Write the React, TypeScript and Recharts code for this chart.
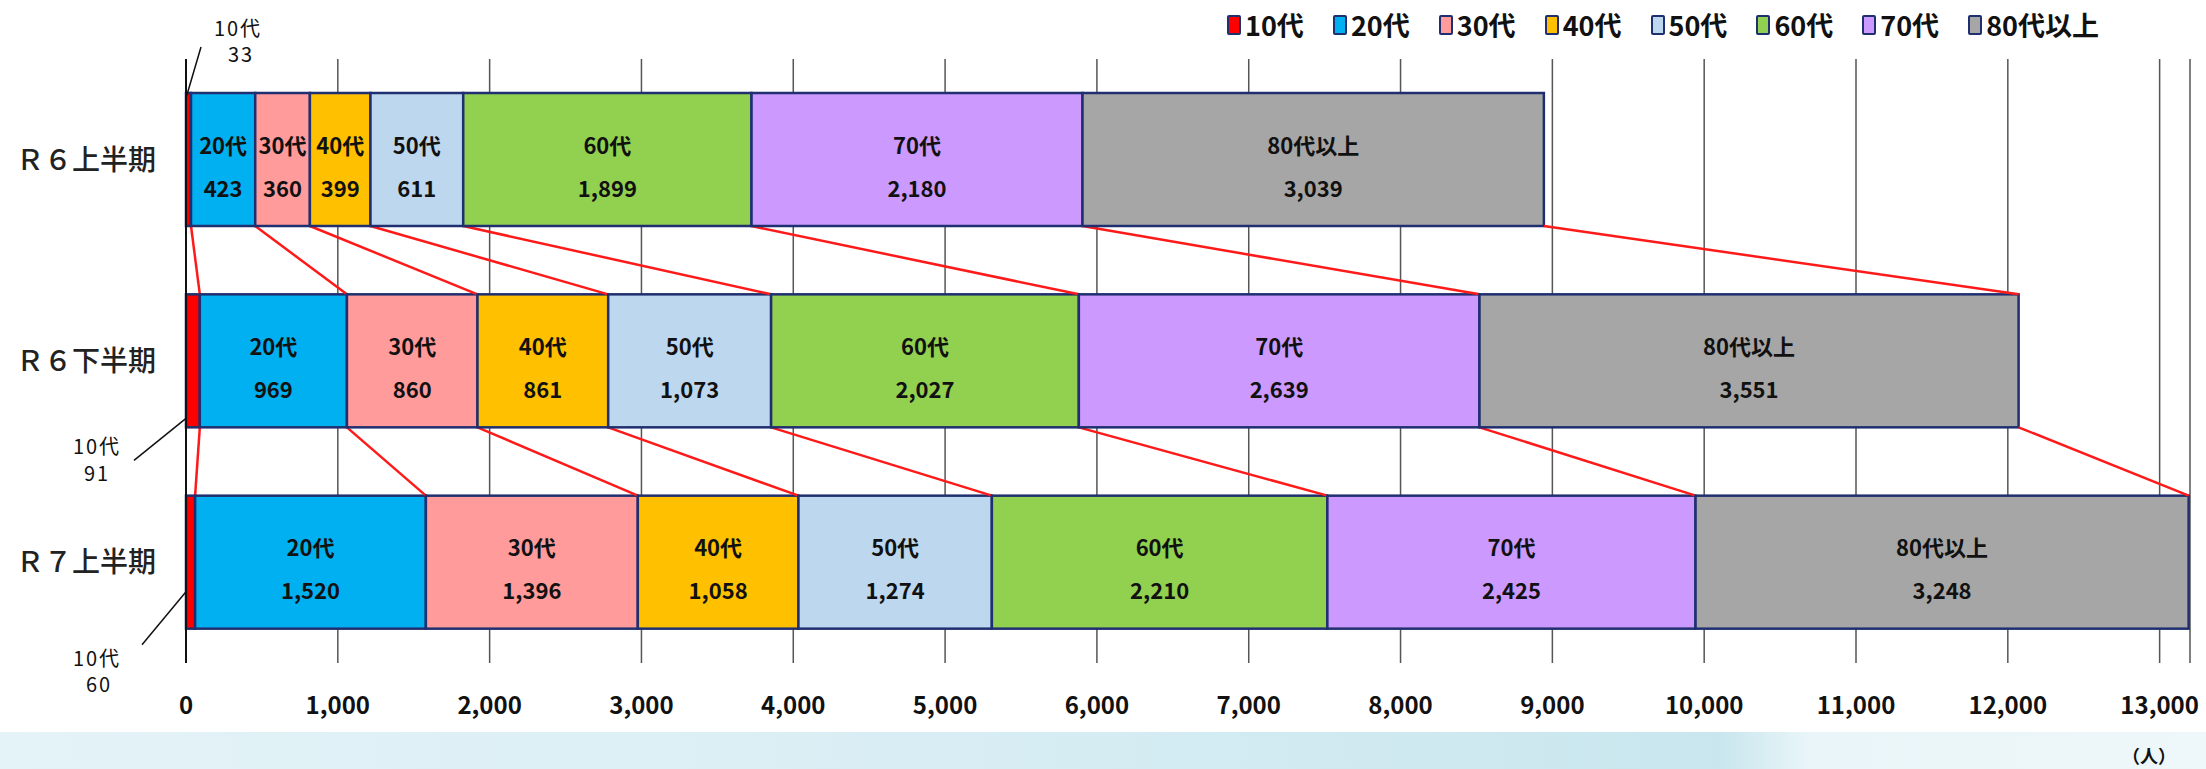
import { BarChart, Bar, XAxis, YAxis, CartesianGrid, Legend, LabelList } from 'recharts';

const FONT = '"Noto Sans CJK JP", "Noto Sans", sans-serif';

// 期間（縦軸）
const PERIODS = ['Ｒ６上半期', 'Ｒ６下半期', 'Ｒ７上半期'];
// 年代
const AGE_GROUPS = ['10代', '20代', '30代', '40代', '50代', '60代', '70代', '80代以上'];

// 年代別の人数（R6上, R6下, R7上）
const AGE_10S = [33, 91, 60];
const AGE_20S = [423, 969, 1520];
const AGE_30S = [360, 860, 1396];
const AGE_40S = [399, 861, 1058];
const AGE_50S = [611, 1073, 1274];
const AGE_60S = [1899, 2027, 2210];
const AGE_70S = [2180, 2639, 2425];
const AGE_80S = [3039, 3551, 3248];
const SERIES = [AGE_10S, AGE_20S, AGE_30S, AGE_40S, AGE_50S, AGE_60S, AGE_70S, AGE_80S];

const X_TICKS = [0, 1000, 2000, 3000, 4000, 5000, 6000, 7000, 8000, 9000, 10000, 11000, 12000, 13000];

const COLORS = ['#ff0000', '#00b0f0', '#ff9b9b', '#ffc000', '#bdd7ee', '#92d050', '#cc99ff', '#a6a6a6'];
const EDGE = '#1f2f6f';
const CONNECTOR = '#ff1a1a';

const data = PERIODS.map((p, i) => {
  const row: Record<string, string | number> = { period: p };
  AGE_GROUPS.forEach((g, k) => (row[g] = SERIES[k][i]));
  return row;
});

const fmt = (n: number) => n.toLocaleString('en-US');

// 前の期間の棒の位置を覚えておき、区切り同士を赤線で結ぶ
const prevRects: Record<number, { x: number; y: number; w: number; h: number }[]> = {};

const makeShape = (k: number) => (props: any) => {
  const { x, y, width, height, index } = props;
  if (!prevRects[k]) prevRects[k] = [];
  prevRects[k][index] = { x, y, w: width, h: height };
  const prev = index > 0 ? prevRects[k][index - 1] : undefined;
  return (
    <g>
      <rect x={x} y={y} width={width} height={height} fill={COLORS[k]} stroke={EDGE} strokeWidth={2.5} />
      {prev && (
        <line
          x1={prev.x + prev.w}
          y1={prev.y + prev.h}
          x2={x + width}
          y2={y}
          stroke={CONNECTOR}
          strokeWidth={2.5}
        />
      )}
    </g>
  );
};

const box = (p: any) => {
  const vb = p.viewBox || {};
  return {
    x: p.x ?? vb.x,
    y: p.y ?? vb.y,
    width: p.width ?? vb.width,
    height: p.height ?? vb.height,
  };
};

// 棒の中のラベル（年代と人数）
const innerLabel = (k: number) => (p: any) => {
  const { x, y, width, height } = box(p);
  const cx = x + width / 2;
  const cy = y + height / 2;
  const style = { fontFamily: FONT, fontWeight: 700, fontSize: 22, fill: '#111' };
  return (
    <g key={`in-${k}-${p.index}`}>
      <text x={cx} y={cy - 16} textAnchor="middle" dominantBaseline="central" style={style}>
        {AGE_GROUPS[k]}
      </text>
      <text x={cx} y={cy + 27} textAnchor="middle" dominantBaseline="central" style={style}>
        {fmt(SERIES[k][p.index])}
      </text>
    </g>
  );
};

// 10代は棒が細いので引き出し線で外に表示
const teenLabel = (p: any) => {
  const { x, y, height } = box(p);
  const i = p.index;
  const b = y + height;
  let line: number[];
  let t1: number[];
  let t2: number[];
  if (i === 0) {
    line = [x, y + 5, x + 15, y - 46];
    t1 = [x + 52, y - 66];
    t2 = [x + 55, y - 40];
  } else if (i === 1) {
    line = [x, b - 9, x - 52, b + 33];
    t1 = [x - 89, b + 18];
    t2 = [x - 89, b + 45];
  } else {
    line = [x, b - 37, x - 44, b + 16];
    t1 = [x - 89, b + 29];
    t2 = [x - 87, b + 55];
  }
  const style = { fontFamily: FONT, fontWeight: 400, fontSize: 20, fill: '#111', letterSpacing: 2 };
  return (
    <g key={`teen-${i}`}>
      <line x1={line[0]} y1={line[1]} x2={line[2]} y2={line[3]} stroke="#111" strokeWidth={1.5} />
      <text x={t1[0]} y={t1[1]} textAnchor="middle" dominantBaseline="central" style={style}>
        {AGE_GROUPS[0]}
      </text>
      <text x={t2[0]} y={t2[1]} textAnchor="middle" dominantBaseline="central" style={style}>
        {SERIES[0][i]}
      </text>
    </g>
  );
};

const renderLegend = () => (
  <div
    style={{
      display: 'flex',
      alignItems: 'center',
      gap: 29,
      fontFamily: FONT,
      fontWeight: 700,
      fontSize: 27,
      color: '#111',
      lineHeight: 1,
    }}
  >
    {AGE_GROUPS.map((g, k) => (
      <div key={g} style={{ display: 'flex', alignItems: 'center', gap: 4 }}>
        <span
          style={{
            display: 'inline-block',
            width: 10,
            height: 16,
            background: COLORS[k],
            border: `2px solid ${EDGE}`,
            borderRadius: 2,
          }}
        />
        <span>{g}</span>
      </div>
    ))}
  </div>
);

export default function App() {
  return (
    <div style={{ position: 'absolute', left: 0, top: 0, width: 2206, height: 769, background: '#fff', overflow: 'hidden' }}>
      <div
        style={{
          position: 'absolute',
          left: 0,
          top: 732,
          width: 2206,
          height: 37,
          background: 'linear-gradient(90deg, #e4f3f8 0%, #d9eef4 40%, #c9e6ee 78%, #e9f5f8 82%, #eef7fa 100%)',
        }}
      />
      <div style={{ position: 'absolute', left: 0, top: 0 }}>
        <BarChart
          width={2206}
          height={769}
          data={data}
          layout="vertical"
          margin={{ top: 59, right: 16, bottom: 0, left: 0 }}
          barSize={133}
        >
          <CartesianGrid horizontal={false} stroke="#555" strokeWidth={1.5} />
          <XAxis
            type="number"
            domain={[0, 13200]}
            ticks={X_TICKS}
            height={106}
            axisLine={false}
            tickLine={false}
            tickSize={0}
            tickMargin={34}
            tickFormatter={fmt}
            tick={{ fontFamily: FONT, fontWeight: 700, fontSize: 24, fill: '#111' }}
            label={{
              content: (p: any) => (
                <text
                  x={p.viewBox.x + p.viewBox.width - 41}
                  y={p.viewBox.y + p.viewBox.height - 14}
                  textAnchor="middle"
                  dominantBaseline="central"
                  style={{ fontFamily: FONT, fontWeight: 700, fontSize: 18, fill: '#111' }}
                >
                  （人）
                </text>
              ),
            }}
          />
          <YAxis
            type="category"
            dataKey="period"
            width={186}
            axisLine={{ stroke: '#111', strokeWidth: 2 }}
            tickLine={false}
            tickSize={0}
            tickMargin={30}
            tick={{ fontFamily: FONT, fontWeight: 500, fontSize: 28, fill: '#222' }}
          />
          <Legend
            verticalAlign="middle"
            align="center"
            layout="horizontal"
            content={renderLegend}
            wrapperStyle={{ top: 11, left: 1227, width: 975, height: 30 }}
          />
          {AGE_GROUPS.map((g, k) => (
            <Bar
              key={g}
              dataKey={g}
              stackId="total"
              fill={COLORS[k]}
              shape={makeShape(k)}
              isAnimationActive={false}
            >
              <LabelList dataKey={g} content={k === 0 ? teenLabel : innerLabel(k)} />
            </Bar>
          ))}
        </BarChart>
      </div>
    </div>
  );
}
